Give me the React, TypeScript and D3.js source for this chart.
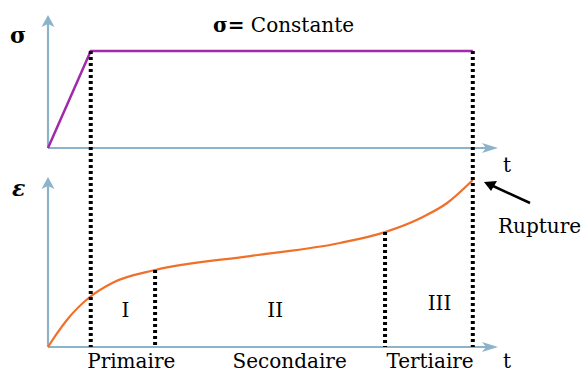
import React from "react";
import * as d3 from "d3";

// ---- data (time in arbitrary units, strain in arbitrary units) ----
const strainT = [0, 0.2, 0.42, 0.93, 1.45, 2.38, 4.49, 6.49, 7.49, 8.33, 8.87, 9.44];
const strainV = [0, 0.8, 1.59, 2.94, 3.8, 4.53, 5.35, 6.12, 6.76, 7.65, 8.47, 9.82];
const stressT = [0, 0.95, 9.44];
const stressV = [0, 1, 1];
const loadT = 0.95; // end of loading
const primaryEndT = 2.38;
const tertiaryStartT = 7.49;
const ruptureT = 9.44;
const stageNumerals = ["I", "II", "III"];
const stageNumeralT = [1.72, 5.05, 8.7];
const stageNames = ["Primaire", "Secondaire", "Tertiaire"];
const stageNameT = [1.85, 5.37, 8.49];

const W = 584;
const H = 374;
const FONT = "'DejaVu Serif', serif";
const AXIS = "#8db3cb";

const x = d3.scaleLinear().domain([0, 10]).range([48, 498]);
const yS = d3.scaleLinear().domain([0, 1]).range([148, 51]);
const yE = d3.scaleLinear().domain([0, 10]).range([347, 177]);

function strainAt(t: number) {
  const i = strainT.indexOf(t);
  if (i >= 0) return strainV[i];
  return d3.scaleLinear().domain(strainT).range(strainV)(t);
}

function ArrowUp({ cx, tip }: { cx: number; tip: number }) {
  const p = `M${cx},${tip} L${cx + 6.5},${tip + 12} L${cx},${tip + 9} L${cx - 6.5},${tip + 12} Z`;
  return <path d={p} fill={AXIS} />;
}
function ArrowRight({ cy, tip }: { cy: number; tip: number }) {
  const p = `M${tip},${cy} L${tip - 16},${cy + 5} L${tip - 12},${cy} L${tip - 16},${cy - 5} Z`;
  return <path d={p} fill={AXIS} />;
}

export default function App() {
  const stressLine = d3
    .line<number>()
    .x((_, i) => x(stressT[i]))
    .y((d) => yS(d));
  const strainLine = d3
    .line<number>()
    .x((_, i) => x(strainT[i]))
    .y((d) => yE(d))
    .curve(d3.curveMonotoneX);

  const dots = { stroke: "#000", strokeWidth: 4, strokeDasharray: "3 3" } as const;
  const x0 = x(0);

  return (
    <svg width={W} height={H} style={{ position: "absolute", left: 0, top: 0 }} fontFamily={FONT}>
      <rect width={W} height={H} fill="#fff" />
      {/* top axes */}
      <line x1={x0} y1={yS(0)} x2={x0} y2={24} stroke={AXIS} strokeWidth={2.2} />
      <ArrowUp cx={x0} tip={15} />
      <line x1={x0} y1={yS(0)} x2={488} y2={yS(0)} stroke={AXIS} strokeWidth={2.2} />
      <ArrowRight cy={yS(0)} tip={x(10)} />
      {/* bottom axes */}
      <line x1={x0} y1={yE(0)} x2={x0} y2={186} stroke={AXIS} strokeWidth={2.2} />
      <ArrowUp cx={x0} tip={177} />
      <line x1={x0} y1={yE(0)} x2={488} y2={yE(0)} stroke={AXIS} strokeWidth={2.2} />
      <ArrowRight cy={yE(0)} tip={x(10)} />

      {/* stress */}
      <path d={stressLine(stressV) || ""} fill="none" stroke="#a02aa8" strokeWidth={2.5} />
      {/* strain */}
      <path d={strainLine(strainV) || ""} fill="none" stroke="#f0702a" strokeWidth={2.2} />

      {/* dotted stage lines */}
      <line x1={x(loadT)} y1={yS(1)} x2={x(loadT)} y2={yE(0)} {...dots} />
      <line x1={x(ruptureT)} y1={yS(1)} x2={x(ruptureT)} y2={yE(0)} {...dots} />
      <line x1={x(primaryEndT)} y1={yE(strainAt(primaryEndT))} x2={x(primaryEndT)} y2={yE(0)} {...dots} />
      <line x1={x(tertiaryStartT)} y1={yE(strainAt(tertiaryStartT))} x2={x(tertiaryStartT)} y2={yE(0)} {...dots} />

      {/* rupture arrow */}
      <line x1={530} y1={203} x2={492} y2={185.5} stroke="#000" strokeWidth={2.5} />
      <path d="M484,182 L497,181 L491,191 Z" fill="#000" />

      {/* labels */}
      <text x={10} y={43} fontSize={22} fontWeight="bold">σ</text>
      <text x={12} y={196} fontSize={22} fontWeight="bold" fontStyle="italic">ε</text>
      <text x={213} y={32} fontSize={20}>
        <tspan fontWeight="bold">σ=</tspan> Constante
      </text>
      <text x={503} y={172} fontSize={20}>t</text>
      <text x={503} y={368} fontSize={20}>t</text>
      <text x={498} y={233} fontSize={20}>Rupture</text>
      {stageNumerals.map((s, i) => (
        <text key={s} x={x(stageNumeralT[i])} y={i === 2 ? 310 : 317} fontSize={20} textAnchor="middle">
          {s}
        </text>
      ))}
      {stageNames.map((s, i) => (
        <text key={s} x={x(stageNameT[i])} y={368} fontSize={20} textAnchor="middle">
          {s}
        </text>
      ))}
    </svg>
  );
}
